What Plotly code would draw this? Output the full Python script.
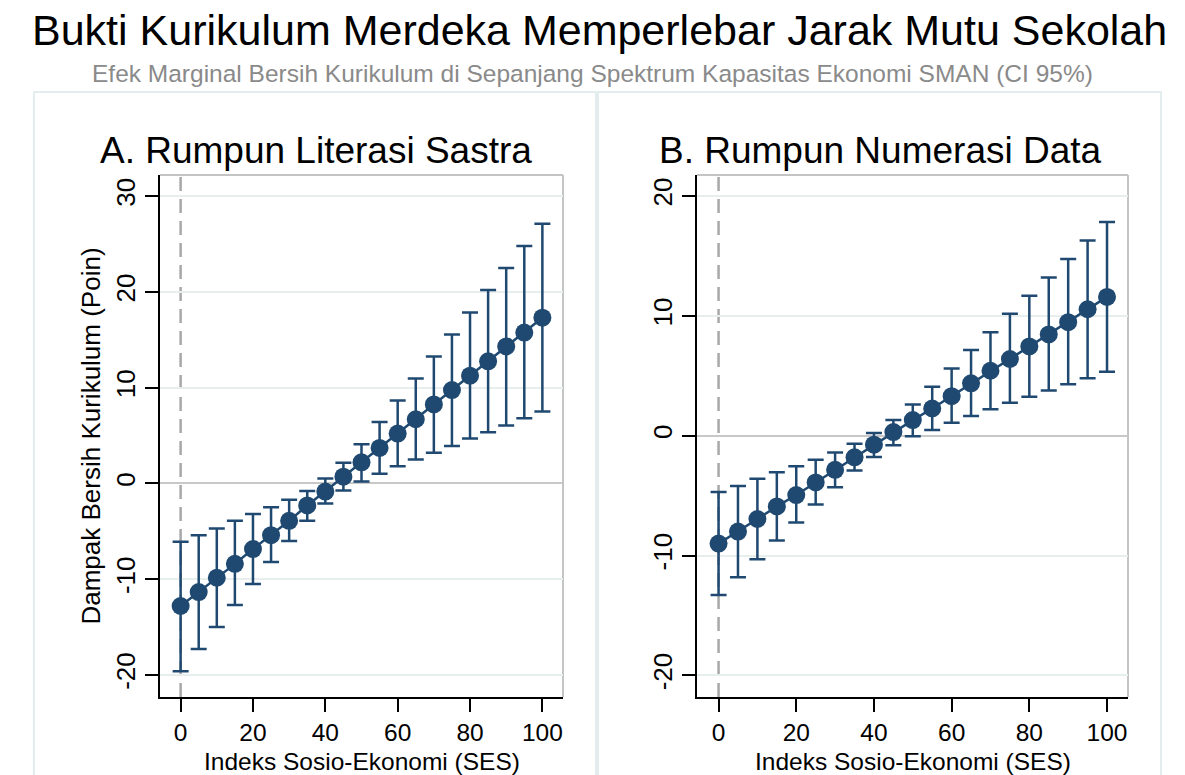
import plotly.graph_objects as go

ses = [0, 5, 10, 15, 20, 25, 30, 35, 40, 45, 50, 55, 60, 65, 70, 75, 80, 85, 90, 95, 100]

lit_est = [-12.8, -11.35, -9.85, -8.4, -6.85, -5.4, -3.9, -2.3, -0.85, 0.7, 2.2, 3.7, 5.2, 6.7, 8.25, 9.75, 11.25, 12.75, 14.3, 15.75, 17.3]
lit_hi = [-6.1, -5.4, -4.7, -3.9, -3.2, -2.5, -1.7, -0.8, 0.5, 2.15, 4.1, 6.4, 8.65, 10.95, 13.25, 15.55, 17.85, 20.2, 22.5, 24.8, 27.1]
lit_lo = [-19.6, -17.3, -15.0, -12.7, -10.5, -8.2, -6.0, -3.9, -2.1, -0.75, 0.2, 1.0, 1.8, 2.5, 3.2, 3.9, 4.7, 5.35, 6.05, 6.8, 7.5]

num_est = [-9.0, -8.0, -6.95, -5.9, -4.95, -3.9, -2.85, -1.8, -0.75, 0.3, 1.3, 2.27, 3.3, 4.37, 5.42, 6.4, 7.45, 8.45, 9.47, 10.55, 11.58]
num_hi = [-4.7, -4.2, -3.6, -3.05, -2.55, -2.0, -1.4, -0.67, 0.22, 1.3, 2.6, 4.08, 5.6, 7.14, 8.64, 10.17, 11.67, 13.2, 14.75, 16.28, 17.83]
num_lo = [-13.3, -11.8, -10.3, -8.75, -7.25, -5.75, -4.3, -2.9, -1.78, -0.8, -0.05, 0.47, 1.08, 1.64, 2.2, 2.75, 3.25, 3.78, 4.3, 4.8, 5.33]

x_ticks = [0, 20, 40, 60, 80, 100]
lit_yticks = [-20, -10, 0, 10, 20, 30]
num_yticks = [-20, -10, 0, 10, 20]

title = "Bukti Kurikulum Merdeka Memperlebar Jarak Mutu Sekolah"
subtitle = "Efek Marginal Bersih Kurikulum di Sepanjang Spektrum Kapasitas Ekonomi SMAN (CI 95%)"
panel_titles = ["A. Rumpun Literasi Sastra", "B. Rumpun Numerasi Data"]
x_title = "Indeks Sosio-Ekonomi (SES)"
y_title = "Dampak Bersih Kurikulum (Poin)"

FONT = "Liberation Sans, Arial, sans-serif"
NAVY = "#1f4970"

fig = go.Figure()

def add_panel(est, hi, lo, xa, ya):
    fig.add_trace(go.Scatter(
        x=ses, y=est, xaxis=xa, yaxis=ya, mode="lines+markers",
        line=dict(color=NAVY, width=2.5),
        marker=dict(color=NAVY, size=18),
        error_y=dict(type="data", symmetric=False,
                     array=[h - e for h, e in zip(hi, est)],
                     arrayminus=[e - l for e, l in zip(est, lo)],
                     color=NAVY, thickness=2.5, width=8),
        showlegend=False, hoverinfo="skip"))

add_panel(lit_est, lit_hi, lit_lo, "x", "y")
add_panel(num_est, num_hi, num_lo, "x2", "y2")

axis_common = dict(showline=True, linecolor="black", linewidth=2, ticks="outside",
                   ticklen=13, tickwidth=2, tickcolor="black")
yfont = dict(family=FONT, size=26, color="black")
xfont = dict(family=FONT, size=24.5, color="black")

def labels(vals):
    return [str(v) for v in vals]

LX = [160/1185, 563/1185]
RX = [697/1185, 1128/1185]

fig.update_layout(
    width=1185, height=775, margin=dict(l=0, r=0, t=0, b=0),
    paper_bgcolor="white", plot_bgcolor="white",
    font=dict(family=FONT, color="black"),
    xaxis=dict(domain=LX, range=[-5.7, 105.7], tickvals=x_ticks,
               ticktext=labels(x_ticks), ticklabelstandoff=0, tickfont=xfont,
               showgrid=False, zeroline=False, anchor="y", **axis_common),
    yaxis=dict(domain=[1-697/775, 1-175/775], range=[-22.3, 32.2], tickvals=lit_yticks,
               ticktext=labels(lit_yticks), tickfont=yfont,
               tickangle=-90, showgrid=True, gridcolor="#e6eeee", gridwidth=2,
               zeroline=True, zerolinecolor="#c8c8c8", zerolinewidth=2, anchor="x",
               title=dict(text=y_title, font=dict(size=26), standoff=2), **axis_common),
    xaxis2=dict(domain=RX, range=[-5.55, 105.4], tickvals=x_ticks,
                ticktext=labels(x_ticks), ticklabelstandoff=0, tickfont=xfont,
                showgrid=False, zeroline=False, anchor="y2", **axis_common),
    yaxis2=dict(domain=[1-697/775, 1-175/775], range=[-21.8, 21.75], tickvals=num_yticks,
                ticktext=labels(num_yticks), tickfont=yfont,
                tickangle=-90, showgrid=True, gridcolor="#e6eeee", gridwidth=2,
                zeroline=True, zerolinecolor="#c8c8c8", zerolinewidth=2, anchor="x2",
                **axis_common),
)

shapes = []
# panel frames
for x0, x1 in [(34, 596), (598, 1161)]:
    shapes.append(dict(type="rect", xref="paper", yref="paper",
                       x0=x0/1185, x1=x1/1185, y0=-0.05, y1=1-92/775,
                       line=dict(color="#e4eded", width=2), fillcolor="rgba(0,0,0,0)", layer="below"))
# top/right light borders and dashed zero line
for xa, ya in [("x", "y"), ("x2", "y2")]:
    shapes.append(dict(type="line", xref=xa + " domain", yref=ya + " domain",
                       x0=0, x1=1, y0=1, y1=1, line=dict(color="#c4c4c4", width=2), layer="below"))
    shapes.append(dict(type="line", xref=xa + " domain", yref=ya + " domain",
                       x0=1, x1=1, y0=0, y1=1, line=dict(color="#c4c4c4", width=2), layer="below"))
    shapes.append(dict(type="line", xref=xa, yref=ya + " domain",
                       x0=0, x1=0, y0=0, y1=1, line=dict(color="#a8a8a8", width=2.5, dash="14px,8px"), layer="below"))
fig.update_layout(shapes=shapes)

annotations = [
    dict(text=title, x=599/1185, y=1-30/775, xref="paper", yref="paper", showarrow=False,
         font=dict(size=43, color="black", family=FONT), xanchor="center", yanchor="middle"),
    dict(text=subtitle, x=592/1185, y=1-73/775, xref="paper", yref="paper", showarrow=False,
         font=dict(size=24.5, color="#8a8a8a", family=FONT), xanchor="center", yanchor="middle"),
    dict(text=panel_titles[0], x=316/1185, y=1-150/775, xref="paper", yref="paper", showarrow=False,
         font=dict(size=37, color="black", family=FONT), xanchor="center", yanchor="middle"),
    dict(text=panel_titles[1], x=880/1185, y=1-150/775, xref="paper", yref="paper", showarrow=False,
         font=dict(size=37, color="black", family=FONT), xanchor="center", yanchor="middle"),
    dict(text=x_title, x=(LX[0]+LX[1])/2, y=1-761/775, xref="paper", yref="paper", showarrow=False,
         font=dict(size=24.5, color="black", family=FONT), xanchor="center", yanchor="middle"),
    dict(text=x_title, x=(RX[0]+RX[1])/2, y=1-761/775, xref="paper", yref="paper", showarrow=False,
         font=dict(size=24.5, color="black", family=FONT), xanchor="center", yanchor="middle"),
]
fig.update_layout(annotations=annotations)

fig.write_html("out.html")
